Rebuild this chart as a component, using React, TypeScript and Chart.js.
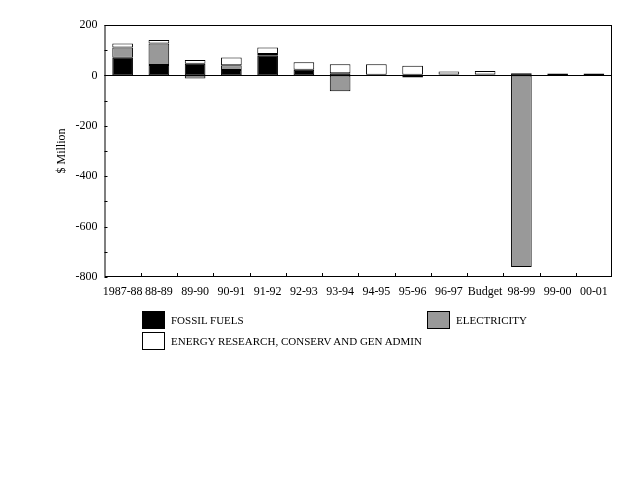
import React, { useEffect, useRef } from "react";
import { Chart, registerables } from "chart.js";

Chart.register(...registerables);

const years = [
  "1987-88", "88-89", "89-90", "90-91", "91-92", "92-93", "93-94",
  "94-95", "95-96", "96-97", "Budget", "98-99", "99-00", "00-01",
];
const fossilFuels = [70, 41, 46, 21, 78, 22, 9, 3, 3, 4, 4, 9, 8, 8];
const electricity = [41, 86, -12, 19, 7, null, -63, null, -8, null, null, -760, null, null];
const energyResearch = [16, 13, 15, 31, 26, 30, 35, 41, 35, 11, 13, null, null, null];

const FONT = "'Liberation Serif', 'Times New Roman', serif";
const GREY = "#999999";

// box round the plot, zero line and the short inward tick marks
const framePlugin = {
  id: "frame",
  afterDatasetsDraw(chart: any) {
    const { ctx, chartArea: a, scales } = chart;
    ctx.save();
    ctx.strokeStyle = "#000";
    ctx.lineWidth = 1;
    ctx.strokeRect(a.left + 0.5, a.top + 0.5, a.right - a.left - 1, a.bottom - a.top - 1);

    const y0 = Math.round(scales.y.getPixelForValue(0)) + 0.5;
    ctx.beginPath();
    ctx.moveTo(a.left, y0);
    ctx.lineTo(a.right, y0);

    scales.y.ticks.forEach((t: any) => {
      const py = Math.round(scales.y.getPixelForValue(t.value)) + 0.5;
      ctx.moveTo(a.left, py);
      ctx.lineTo(a.left + 3, py);
    });

    for (let i = 0; i < years.length - 1; i++) {
      const px = Math.round((scales.x.getPixelForTick(i) + scales.x.getPixelForTick(i + 1)) / 2) + 0.5;
      ctx.moveTo(px, a.bottom);
      ctx.lineTo(px, a.bottom - 4);
    }
    ctx.stroke();
    ctx.restore();
  },
};

const legendItems = [
  { label: "FOSSIL FUELS", color: "#000", left: 142, top: 311 },
  { label: "ELECTRICITY", color: GREY, left: 427, top: 311 },
  { label: "ENERGY RESEARCH, CONSERV AND GEN ADMIN", color: "#fff", left: 142, top: 332 },
];

const App: React.FC = () => {
  const canvasRef = useRef<HTMLCanvasElement>(null);
  const chartRef = useRef<Chart>();

  useEffect(() => {
    if (!canvasRef.current) return;
    const ctx = canvasRef.current.getContext("2d");
    if (!ctx) return;

    const common = {
      borderColor: "#000",
      borderWidth: 1,
      borderSkipped: false as const,
      barPercentage: 0.57,
      categoryPercentage: 1,
    };

    chartRef.current = new Chart(ctx, {
      type: "bar",
      data: {
        labels: years,
        datasets: [
          { label: "FOSSIL FUELS", data: fossilFuels, backgroundColor: "#000", ...common },
          { label: "ELECTRICITY", data: electricity, backgroundColor: GREY, ...common },
          { label: "ENERGY RESEARCH, CONSERV AND GEN ADMIN", data: energyResearch, backgroundColor: "#fff", ...common },
        ],
      },
      options: {
        responsive: false,
        animation: false,
        devicePixelRatio: 1,
        layout: { padding: { left: 55, top: 25, right: 28, bottom: 0 } },
        plugins: {
          legend: { display: false },
          tooltip: { enabled: false },
        },
        scales: {
          x: {
            stacked: true,
            grid: { display: false, drawTicks: false },
            border: { display: false },
            ticks: {
              color: "#000",
              font: { family: FONT, size: 12 },
              padding: 8,
              autoSkip: false,
              maxRotation: 0,
              minRotation: 0,
            },
            afterFit: (scale: any) => {
              scale.height = 203;
            },
          },
          y: {
            stacked: true,
            min: -800,
            max: 200,
            grid: { display: false, drawTicks: false },
            border: { display: false },
            ticks: {
              stepSize: 100,
              color: "#000",
              font: { family: FONT, size: 12 },
              padding: 7,
              callback: (v: any) => (Number(v) % 200 === 0 ? String(v) : ""),
            },
            title: {
              display: true,
              text: "$ Million",
              color: "#000",
              font: { family: FONT, size: 12 },
              padding: { top: 0, bottom: 0 },
            },
            afterFit: (scale: any) => {
              scale.width = 49.5;
            },
          },
        },
      },
      plugins: [framePlugin],
    });

    return () => {
      if (chartRef.current) {
        chartRef.current.destroy();
      }
    };
  }, []);

  return (
    <div style={{ position: "absolute", left: 0, top: 0, width: 640, height: 480, background: "#fff" }}>
      <canvas ref={canvasRef} width={640} height={480} />
      {legendItems.map((item) => (
        <div
          key={item.label}
          style={{
            position: "absolute",
            left: item.left,
            top: item.top,
            display: "flex",
            alignItems: "center",
            fontFamily: FONT,
            fontSize: 11,
            color: "#000",
            whiteSpace: "nowrap",
          }}
        >
          <span
            style={{
              display: "inline-block",
              width: 21,
              height: 16,
              background: item.color,
              border: "1px solid #000",
              marginRight: 6,
            }}
          />
          {item.label}
        </div>
      ))}
    </div>
  );
};

export default App;
